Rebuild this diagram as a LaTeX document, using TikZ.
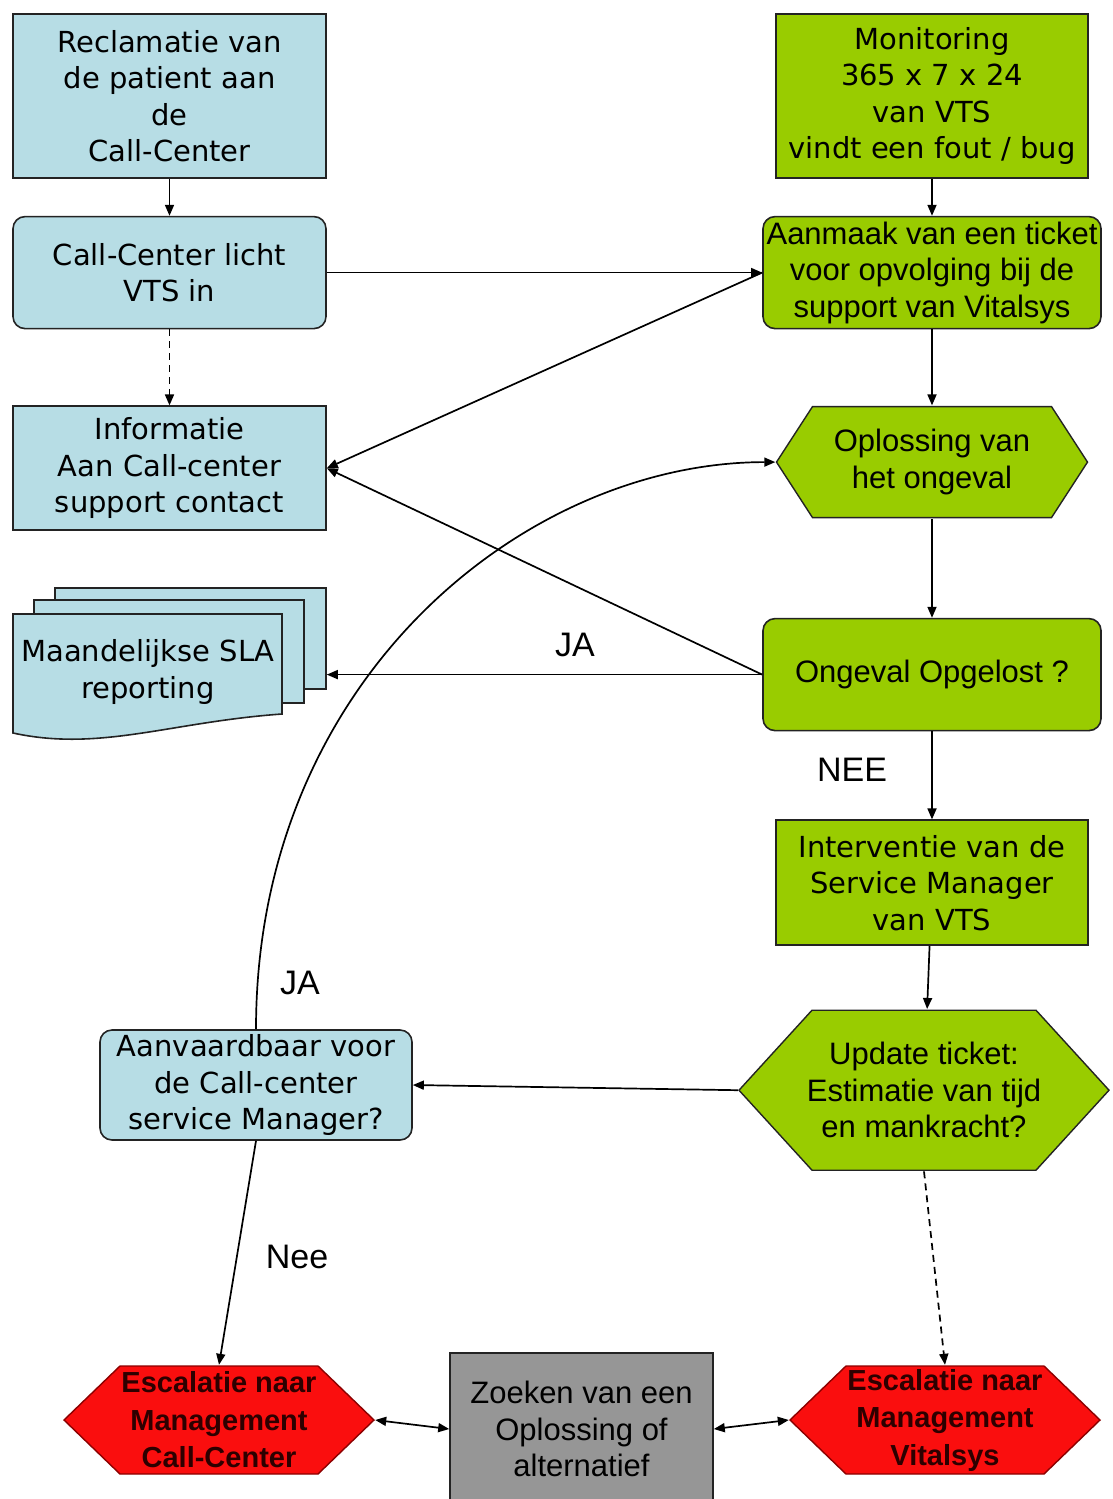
\documentclass[tikz,border=0pt]{standalone}
\usepackage{fontspec}
\setmainfont{DejaVu Sans}
\newfontfamily\arialfont{Liberation Sans}
\usepackage{tikz}
\usetikzlibrary{arrows.meta, positioning, calc}

\definecolor{ccblue}{RGB}{183,221,229}
\definecolor{vtsgreen}{RGB}{153,204,0}
\definecolor{escred}{RGB}{250,14,14}
\definecolor{zoekgray}{RGB}{150,150,150}
\definecolor{edge}{RGB}{35,35,35}
\definecolor{esctext}{RGB}{45,0,0}

\begin{document}
\begin{tikzpicture}[
		x=1pt, y=-1pt,
		every node/.style={font=\fontsize{29}{36.5}\selectfont, align=center, inner sep=0pt},
		arial/.style={font=\arialfont\fontsize{31}{36.5}\selectfont},
		esc/.style={font=\arialfont\bfseries\fontsize{29}{37.5}\selectfont, text=esctext},
		answer/.style={font=\arialfont\fontsize{34}{40}\selectfont},
		plainbox/.style={draw=edge, line width=1.6pt, fill=#1},
		roundbox/.style={plainbox=#1, rounded corners=12pt},
		hexa/.style n args={3}{path picture={
				\draw[fill=#1, draw=#2, line width=1.4pt]
				([xshift=1pt]path picture bounding box.west)
				-- ([xshift=#3, yshift=-1pt]path picture bounding box.north west)
				-- ([xshift=-#3, yshift=-1pt]path picture bounding box.north east)
				-- ([xshift=-1pt]path picture bounding box.east)
				-- ([xshift=-#3, yshift=1pt]path picture bounding box.south east)
				-- ([xshift=#3, yshift=1pt]path picture bounding box.south west)
				-- cycle;}},
		flow/.style={-{Triangle[length=11pt, width=9pt]}, line width=1.7pt},
		maybe/.style={flow, dash pattern=on 7pt off 5pt},
		twoway/.style={{Triangle[length=11pt, width=9pt]}-{Triangle[length=11pt, width=9pt]}, line width=1.7pt}
		]
		
		\useasboundingbox (0,0) rectangle (1112,1499);
		
		% Left column: call-center side
		\node[plainbox=ccblue, minimum width=313pt, minimum height=164pt] (reclamatie) at (169.5,96) {Reclamatie van\\de patient aan\\de\\Call-Center};
		\node[roundbox=ccblue, minimum width=313pt, minimum height=112pt, below=37pt of reclamatie] (licht) {Call-Center licht\\VTS in};
		\node[plainbox=ccblue, minimum width=313pt, minimum height=124pt, below=76pt of licht] (informatie) {Informatie\\Aan Call-center\\support contact};
		
		% SLA report stack
		\node[plainbox=ccblue, minimum width=271pt, minimum height=101pt] (slaback) at (190.5,638.5) {};
		\node[plainbox=ccblue, minimum width=270pt, minimum height=103pt] (slamid) at (169,651.5) {};
		\draw[plainbox=ccblue] (13,614) -- (282,614) -- (282,714) .. controls (170,722) and (100,752) .. (13,733) -- cycle;
		\node (sla) at (148,672) {Maandelijkse SLA\\reporting};
		
		% Right column: VTS side
		\node[plainbox=vtsgreen, minimum width=312pt, minimum height=164pt] (monitoring) at (932,96) {Monitoring\\365 x 7 x 24\\van VTS\\vindt een fout / bug};
		\node[roundbox=vtsgreen, arial, minimum width=338pt, minimum height=112pt, below=37pt of monitoring] (ticket) {Aanmaak van een ticket\\voor opvolging bij de\\support van Vitalsys};
		\node[hexa={vtsgreen}{edge}{37pt}, arial, minimum width=313pt, minimum height=113pt, below=76pt of ticket] (oplossing) {Oplossing van\\het ongeval};
		\node[roundbox=vtsgreen, arial, minimum width=338pt, minimum height=112pt, below=99pt of oplossing] (opgelost) {Ongeval Opgelost ?};
		\node[plainbox=vtsgreen, minimum width=312pt, minimum height=125pt, below=88pt of opgelost] (interventie) {Interventie van de\\Service Manager\\van VTS};
		\node[hexa={vtsgreen}{edge}{74pt}, arial, minimum width=372pt, minimum height=162pt, below=63pt of interventie, xshift=-8pt] (update) {Update ticket:\\Estimatie van tijd\\en mankracht?};
		
		\node[roundbox=ccblue, minimum width=312pt, minimum height=110pt] (aanvaardbaar) at (256,1085) {Aanvaardbaar voor\\de Call-center\\service Manager?};
		
		% Escalation row
		\node[hexa={escred}{red!55!black}{57pt}, esc, minimum width=312pt, minimum height=110pt] (esccall) at (219,1420) {Escalatie naar\\Management\\Call-Center};
		\node[plainbox=zoekgray, arial, minimum width=263pt, minimum height=152pt] (zoeken) at (581.5,1429) {Zoeken van een\\Oplossing of\\alternatief};
		\node[hexa={escred}{red!55!black}{57pt}, esc, minimum width=312pt, minimum height=110pt] (escvital) at (945,1420) {Escalatie naar\\Management\\Vitalsys};
		
		% Answers
		\node[answer] (jaboven) at (575,645) {JA};
		\node[answer] (neeboven) at (852,770) {NEE};
		\node[answer] (jaonder) at (300,983) {JA};
		\node[answer] (neeonder) at (297,1257) {Nee};
		
		% Connectors
		\draw[flow] (reclamatie) -- (licht);
		\draw[maybe] (licht) -- (informatie);
		\draw[flow] (licht) -- (ticket);
		\draw[flow] (ticket.west) -- (informatie.east);
		\draw[flow] (opgelost.west) -- (informatie.east);
		\draw[flow] (opgelost.west) -- (opgelost.west -| slaback.east);
		\draw[flow] (monitoring) -- (ticket);
		\draw[flow] (ticket) -- (oplossing);
		\draw[flow] (oplossing) -- (opgelost);
		\draw[flow] (opgelost) -- (interventie);
		\draw[flow] (interventie) -- (update);
		\draw[flow] (update.west) -- (aanvaardbaar.east);
		\draw[flow] (aanvaardbaar.north) .. controls +(0,-350) and +(-250,0) .. (oplossing.west);
		\draw[flow] (aanvaardbaar.south) -- (esccall.north);
		\draw[maybe] (update.south) -- (escvital.north);
		\draw[twoway] (esccall.east) -- (zoeken.west);
		\draw[twoway] (zoeken.east) -- (escvital.west);
		
	\end{tikzpicture}
\end{document}
